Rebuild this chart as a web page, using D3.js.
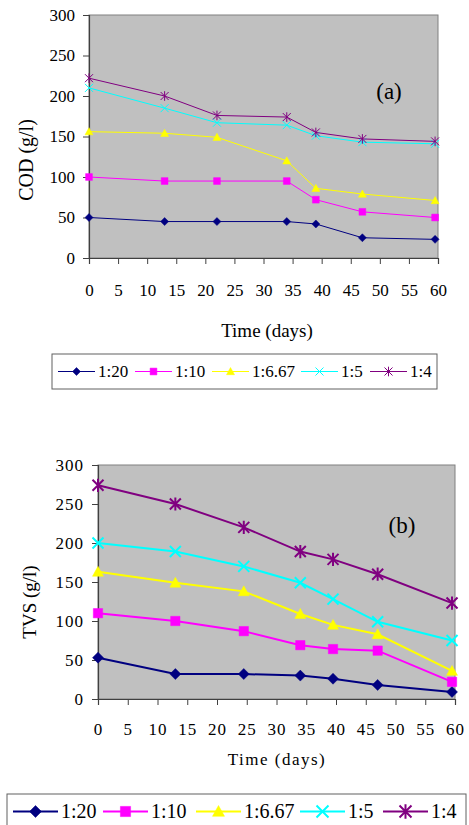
<!DOCTYPE html>
<html>
<head>
<meta charset="utf-8">
<script src="https://cdnjs.cloudflare.com/ajax/libs/d3/7.8.5/d3.min.js"></script>
<style>
  body { margin: 0; background: #fff; }
</style>
</head>
<body>
<svg id="fig" width="469" height="825"></svg>
<script>
var serif = "Liberation Serif";

// series labels and styles
var series = ["1:20", "1:10", "1:6.67", "1:5", "1:4"];
var colors = ["#000080", "#ff00ff", "#ffff00", "#00ffff", "#800080"];
var shapes = ["diamond", "square", "triangle", "cross", "star"];

var xTicks = [0, 5, 10, 15, 20, 25, 30, 35, 40, 45, 50, 55, 60];
var yTicks = [0, 50, 100, 150, 200, 250, 300];

// (a) COD
var daysA = [0, 13, 22, 34, 39, 47, 59.5];
var codA_20  = [50, 45, 45, 45, 42, 25, 23];
var codA_10  = [100, 95, 95, 95, 72, 57, 50];
var codA_667 = [156, 154, 149, 120, 86, 79, 71];
var codA_5   = [210, 185, 167, 164, 151, 143, 141];
var codA_4   = [222, 200, 176, 174, 155, 147, 144];

// (b) TVS
var daysB = [0, 13, 24.5, 34, 39.5, 47, 59.5];
var tvsB_20  = [53, 32, 32, 30, 26, 18, 9];
var tvsB_10  = [110, 100, 87, 69, 64, 62, 22];
var tvsB_667 = [163, 149, 138, 109, 95, 83, 36];
var tvsB_5   = [200, 189, 170, 149, 128, 99, 75];
var tvsB_4   = [274, 250, 220, 189, 179, 160, 123];

var svg = d3.select("#fig").attr("font-family", serif);

function markerPath(shape, s) {
  if (shape == "diamond") return "M0," + (-s) + "L" + s + ",0L0," + s + "L" + (-s) + ",0Z";
  if (shape == "square") { var q = s * 0.85; return "M" + (-q) + "," + (-q) + "H" + q + "V" + q + "H" + (-q) + "Z"; }
  if (shape == "triangle") return "M0," + (-s) + "L" + s + "," + (s * 0.8) + "L" + (-s) + "," + (s * 0.8) + "Z";
  var p = "M" + (-s) + "," + (-s) + "L" + s + "," + s + "M" + (-s) + "," + s + "L" + s + "," + (-s);
  if (shape == "star") p += "M0," + (-s * 1.2) + "L0," + (s * 1.2);
  return p;
}

function addMarker(g, i, x, y, s, sw) {
  var filled = i < 3;
  g.append("path")
    .attr("transform", "translate(" + x + "," + y + ")")
    .attr("d", markerPath(shapes[i], s))
    .attr("fill", filled ? colors[i] : "none")
    .attr("stroke", colors[i])
    .attr("stroke-width", filled ? 0.5 : sw);
}

function drawPanel(c) {
  var x = d3.scaleLinear().domain([0, 60]).range([c.left, c.right]);
  var y = d3.scaleLinear().domain([0, 300]).range([c.bottom, c.top]);

  svg.append("rect")
    .attr("x", c.left).attr("y", c.top)
    .attr("width", c.right - c.left).attr("height", c.bottom - c.top)
    .attr("fill", "#c0c0c0")
    .attr("stroke", "#808080");

  var gx = svg.append("g")
    .attr("transform", "translate(0," + c.bottom + ")")
    .call(d3.axisBottom(x).tickValues(xTicks).tickSize(6).tickPadding(c.xPad));
  var gy = svg.append("g")
    .attr("transform", "translate(" + c.left + ",0)")
    .call(d3.axisLeft(y).tickValues(yTicks).tickSize(6).tickPadding(c.yPad));
  [gx, gy].forEach(function(g) {
    g.attr("font-family", serif).attr("font-size", c.tickFont);
    g.select(".domain").attr("stroke", "#404040").attr("stroke-width", 1.2);
    g.selectAll(".tick line").attr("stroke", "#404040");
    g.selectAll(".tick text")
      .style("font-family", serif)
      .style("font-size", c.tickFont + "px")
      .attr("fill", "#000")
      .style("letter-spacing", c.tickSpacing + "px");
  });

  var line = d3.line()
    .x(function(d) { return x(d[0]); })
    .y(function(d) { return y(d[1]); });

  var gl = svg.append("g");
  c.values.forEach(function(vals, i) {
    var pts = c.days.map(function(d, k) { return [d, vals[k]]; });
    gl.append("path")
      .attr("d", line(pts))
      .attr("fill", "none")
      .attr("stroke", colors[i])
      .attr("stroke-width", c.lineW);
    pts.forEach(function(p) { addMarker(gl, i, x(p[0]), y(p[1]), c.mark, c.lineW); });
  });

  svg.append("text")
    .attr("x", c.tagX).attr("y", c.tagY)
    .attr("text-anchor", "middle")
    .style("font-family", serif)
    .style("font-size", "23px")
    .text(c.tag);

  svg.append("text")
    .attr("transform", "translate(" + c.yLabX + "," + c.yLabY + ") rotate(-90)")
    .attr("text-anchor", "middle")
    .style("font-family", serif)
    .style("font-size", c.yLabFont + "px")
    .text(c.yLabel);

  svg.append("text")
    .attr("x", c.xLabX).attr("y", c.xLabY)
    .attr("text-anchor", "middle")
    .style("font-family", serif)
    .style("font-size", c.xLabFont + "px")
    .style("letter-spacing", c.xLabSpacing + "px")
    .text("Time (days)");

  // legend
  var lg = c.legend;
  svg.append("rect")
    .attr("x", lg.x).attr("y", lg.y)
    .attr("width", lg.w).attr("height", lg.h)
    .attr("fill", "#fff").attr("stroke", "#606060");
  series.forEach(function(s, i) {
    var x0 = lg.items[i], cy = lg.y + lg.h / 2;
    svg.append("line")
      .attr("x1", x0).attr("x2", x0 + lg.lineLen)
      .attr("y1", cy).attr("y2", cy)
      .attr("stroke", colors[i]).attr("stroke-width", c.lineW);
    addMarker(svg, i, x0 + lg.lineLen / 2, cy, lg.mark, c.lineW);
    svg.append("text")
      .attr("x", x0 + lg.lineLen + 3).attr("y", cy + lg.font * 0.34)
      .style("font-family", serif)
      .style("font-size", lg.font + "px")
      .text(s);
  });
}

drawPanel({
  days: daysA,
  values: [codA_20, codA_10, codA_667, codA_5, codA_4],
  left: 89, right: 438, top: 15, bottom: 258,
  xPad: 20, yPad: 8, tickFont: 17, tickSpacing: 0,
  lineW: 1, mark: 4,
  tag: "(a)", tagX: 389, tagY: 99,
  yLabel: "COD (g/l)", yLabX: 33, yLabY: 160, yLabFont: 20,
  xLabX: 267, xLabY: 337, xLabFont: 19, xLabSpacing: 0,
  legend: { x: 52, y: 354, w: 385, h: 35, font: 17, mark: 4, lineLen: 37,
            items: [58, 135, 212, 301, 370] }
});

drawPanel({
  days: daysB,
  values: [tvsB_20, tvsB_10, tvsB_667, tvsB_5, tvsB_4],
  left: 98, right: 455, top: 465, bottom: 699,
  xPad: 18, yPad: 8, tickFont: 17, tickSpacing: 1,
  lineW: 2, mark: 5.5,
  tag: "(b)", tagX: 402, tagY: 533,
  yLabel: "TVS (g/l)", yLabX: 36, yLabY: 602, yLabFont: 19,
  xLabX: 277, xLabY: 765, xLabFont: 17, xLabSpacing: 1.5,
  legend: { x: 7, y: 794, w: 459, h: 35, font: 20, mark: 6, lineLen: 45,
            items: [13, 103, 196, 300, 383] }
});
</script>
</body>
</html>
